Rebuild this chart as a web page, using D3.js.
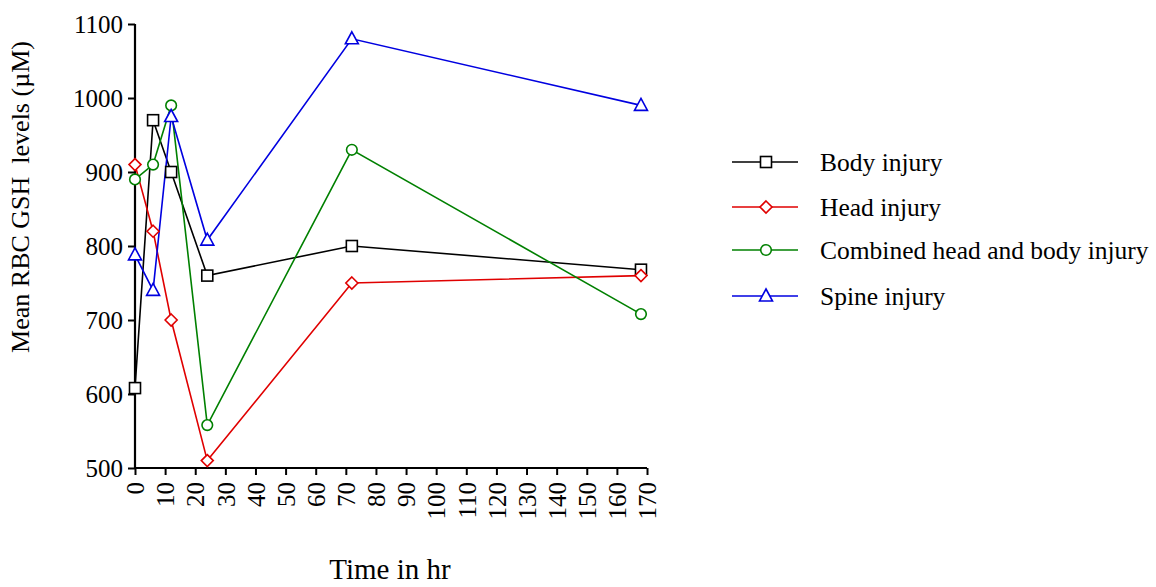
<!DOCTYPE html>
<html><head><meta charset="utf-8">
<script src="https://cdn.jsdelivr.net/npm/d3@7"></script>
<style>body{margin:0;background:#fff}svg{display:block}text{font-family:"Liberation Serif","Times New Roman",serif;fill:#000}</style>
</head><body>
<svg id="c" width="1156" height="587"></svg>
<script>
const times = [0, 6, 12, 24, 72, 168];
const seriesNames = ["Body injury", "Head injury", "Combined head and body injury", "Spine injury"];
const bodyInjury = [608, 970, 900, 760, 800, 768];
const headInjury = [910, 820, 700, 510, 750, 760];
const combinedInjury = [890, 910, 990, 558, 930, 708];
const spineInjury = [788, 740, 975, 808, 1080, 990];
const seriesColors = ["#000000", "#e00000", "#008000", "#0000e0"];
const seriesSymbols = ["square", "diamond", "circle", "triangle"];
const xTicks = d3.range(0, 171, 10);
const yTicks = [500, 600, 700, 800, 900, 1000, 1100];

const svg = d3.select("#c");
const x = d3.scaleLinear().domain([0, 170]).range([135, 647]);
const y = d3.scaleLinear().domain([500, 1100]).range([468, 24]);

const yAxis = svg.append("g").attr("transform", "translate(135,0)")
  .call(d3.axisLeft(y).tickValues(yTicks).tickSize(7).tickPadding(5).tickFormat(d3.format("d")));
const xAxis = svg.append("g").attr("transform", "translate(0,468)")
  .call(d3.axisBottom(x).tickValues(xTicks).tickSize(7).tickPadding(5).tickFormat(d3.format("d")));
[yAxis, xAxis].forEach(a => {
  a.select(".domain").attr("stroke", "#000").attr("stroke-width", 2.2);
  a.selectAll(".tick line").attr("stroke", "#000").attr("stroke-width", 2);
  a.selectAll("text").style("font-family", "Liberation Serif").style("font-size", "25px");
});
yAxis.select(".domain").attr("d", "M0,468V24");
xAxis.select(".domain").attr("d", "M135,0H647");
xAxis.selectAll(".tick text")
  .attr("transform", "rotate(-90)")
  .attr("text-anchor", "end")
  .attr("x", -14).attr("y", 0).attr("dy", "0.35em");

svg.append("text").attr("transform", "translate(29,197) rotate(-90)")
  .attr("text-anchor", "middle").style("font-size", "26px")
  .text("Mean RBC GSH\u00a0 levels (\u00b5M)");
svg.append("text").attr("x", 390).attr("y", 579).attr("text-anchor", "middle")
  .style("font-size", "29px").text("Time in hr");

const allSeries = [bodyInjury, headInjury, combinedInjury, spineInjury];
function drawMarker(g, sym, color, cx, cy) {
  if (sym === "square") g.append("rect").attr("x", cx - 5.5).attr("y", cy - 5.5).attr("width", 11).attr("height", 11);
  else if (sym === "circle") g.append("circle").attr("cx", cx).attr("cy", cy).attr("r", 5.3);
  else if (sym === "diamond") g.append("path").attr("d", `M${cx},${cy-6}L${cx+6},${cy}L${cx},${cy+6}L${cx-6},${cy}Z`);
  else g.append("path").attr("d", `M${cx},${cy-7}L${cx+6.5},${cy+5}L${cx-6.5},${cy+5}Z`);
  g.selectAll(":last-child").attr("fill", "#fff").attr("stroke", color).attr("stroke-width", 1.6);
}
const line = d3.line().x(d => x(d[0])).y(d => y(d[1]));
allSeries.forEach((vals, i) => {
  const pts = times.map((t, j) => [t, vals[j]]);
  svg.append("path").attr("d", line(pts)).attr("fill", "none")
    .attr("stroke", seriesColors[i]).attr("stroke-width", 1.6);
});
allSeries.forEach((vals, i) => {
  const g = svg.append("g");
  times.forEach((t, j) => drawMarker(g, seriesSymbols[i], seriesColors[i], x(t), y(vals[j])));
});

const legY = [162, 207, 250, 296];
seriesNames.forEach((n, i) => {
  const g = svg.append("g");
  g.append("line").attr("x1", 732).attr("x2", 798).attr("y1", legY[i]).attr("y2", legY[i])
    .attr("stroke", seriesColors[i]).attr("stroke-width", 1.6);
  drawMarker(g, seriesSymbols[i], seriesColors[i], 766, legY[i]);
  svg.append("text").attr("x", 820).attr("y", legY[i]).attr("dy", "0.35em")
    .style("font-size", "25.5px").text(n);
});
</script>
</body></html>
